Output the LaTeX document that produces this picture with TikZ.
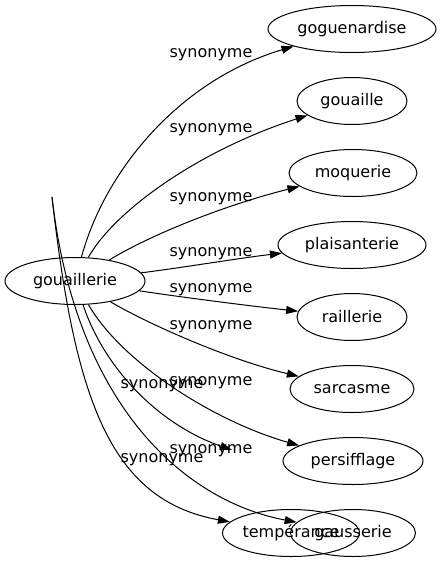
\documentclass[tikz,border=0pt]{standalone}
\usepackage{fontspec}
\setmainfont{DejaVu Sans}
\usetikzlibrary{shapes,arrows.meta,positioning,calc}

\begin{document}
\begin{tikzpicture}[x=1pt, y=-1pt,
        mot/.style={draw, ellipse, line width=1pt, minimum height=47pt, inner sep=0pt, font=\fontsize{16}{19}\selectfont},
        lien/.style={->, line width=1pt},
        etiquette/.style={anchor=base, inner sep=0pt, font=\fontsize{16}{19}\selectfont},
        >={Triangle[length=12pt, width=8pt]}]
            \useasboundingbox (0,0) rectangle (442,563);

            \node[mot, minimum width=140pt] (gouaillerie) at (75,281) {gouaillerie};
            \node[mot, minimum width=168pt] (goguenardise) at (352,29) {goguenardise};
            \node[mot, minimum width=110pt] (gouaille) at (352,101) {gouaille};
            \node[mot, minimum width=128pt] (moquerie) at (353,173) {moquerie};
            \node[mot, minimum width=148pt] (plaisanterie) at (352,245) {plaisanterie};
            \node[mot, minimum width=110pt] (raillerie) at (352,317) {raillerie};
            \node[mot, minimum width=124pt] (sarcasme) at (352,389) {sarcasme};
            \node[mot, minimum width=140pt] (persifflage) at (353,461) {persifflage};
            \node[mot, minimum width=132pt] (temperance) at (291,533) {tempérance};
            \node[mot, minimum width=125pt] (gausserie) at (353,533) {gausserie};

            \coordinate (origine) at (52,197);
            \coordinate (bout) at (232,450);

            \draw[lien] (gouaillerie) .. controls (105,170) and (180,80) .. (goguenardise);
            \draw[lien] (gouaillerie) .. controls (115,210) and (200,150) .. (gouaille);
            \draw[lien] (gouaillerie) .. controls (150,235) and (225,205) .. (moquerie);
            \draw[lien] (gouaillerie) .. controls (180,268) and (240,258) .. (plaisanterie);
            \draw[lien] (gouaillerie) .. controls (180,297) and (250,306) .. (raillerie);
            \draw[lien] (gouaillerie) .. controls (150,325) and (230,360) .. (sarcasme);
            \draw[lien] (gouaillerie) .. controls (120,360) and (210,420) .. (persifflage);
            \draw[lien] (gouaillerie) .. controls (105,370) and (160,425) .. (bout);
            \draw[lien] (origine) .. controls (75,400) and (110,500) .. (temperance);
            \draw[lien] (origine) .. controls (75,400) and (180,500) .. (gausserie);

            \node[etiquette] (s-goguenardise) at (211,57) {synonyme};
            \node[etiquette] (s-gouaille) at (211,132) {synonyme};
            \node[etiquette] (s-moquerie) at (211,201) {synonyme};
            \node[etiquette] (s-plaisanterie) at (211,256) {synonyme};
            \node[etiquette] (s-raillerie) at (211,292) {synonyme};
            \node[etiquette] (s-sarcasme) at (211,329) {synonyme};
            \node[etiquette] (s-persifflage) at (211,385) {synonyme};
            \node[etiquette] (s-bout) at (211,453) {synonyme};
            \node[etiquette] (s-temperance) at (162,462) {synonyme};
            \node[etiquette] (s-gausserie) at (162,388) {synonyme};
        \end{tikzpicture}
\end{document}
